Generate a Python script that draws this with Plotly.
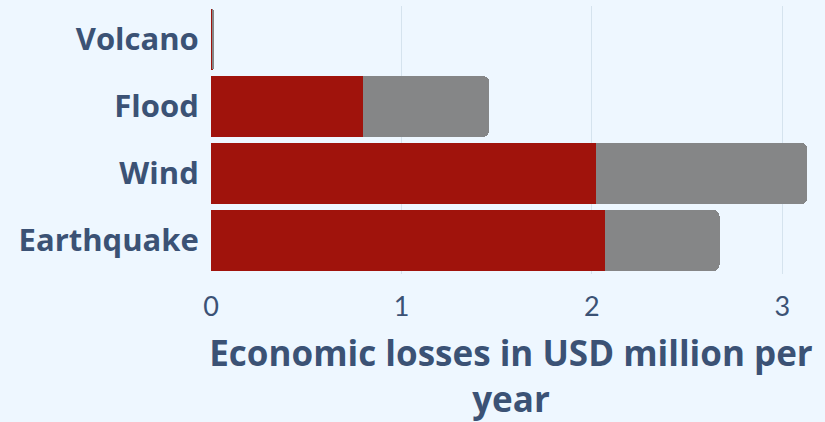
import plotly.graph_objects as go

categories = ["Earthquake", "Wind", "Flood", "Volcano"]
red_values = [2.07, 2.02, 0.80, 0.01]
gray_values = [0.60, 1.11, 0.66, 0.006]
x_ticks = [0, 1, 2, 3]

TEXT = "#3b5275"
BG = "#eef7ff"

fig = go.Figure()
fig.add_trace(go.Bar(y=categories, x=red_values, orientation="h",
                     marker=dict(color="#a0130c", line=dict(width=0)), showlegend=False))
fig.add_trace(go.Bar(y=categories, x=gray_values, orientation="h",
                     marker=dict(color="#858687", line=dict(width=0)), showlegend=False))

fig.update_layout(
    barmode="stack",
    bargap=0.09,
    barcornerradius=6,
    width=825, height=422,
    paper_bgcolor=BG, plot_bgcolor=BG,
    margin=dict(l=211, r=14, t=6, b=148),
    font=dict(family="Open Sans", color=TEXT),
    xaxis=dict(
        range=[0, 3.15], tickvals=x_ticks, ticktext=[str(v) for v in x_ticks],
        showgrid=True, gridcolor="#d5e3ee", gridwidth=1, zeroline=False,
        showline=False, ticks="outside", ticklen=9, tickcolor="rgba(0,0,0,0)",
        tickfont=dict(size=27, color=TEXT, family="Lato"),
        title=dict(text="<b>Economic losses in USD million per<br>year</b>",
                   font=dict(size=35, color=TEXT, family="Open Sans"), standoff=25),
        automargin=False,
    ),
    yaxis=dict(
        showgrid=False, zeroline=False, showline=False,
        ticks="outside", ticklen=5, tickcolor="rgba(0,0,0,0)",
        tickfont=dict(size=31, color=TEXT, family="Open Sans", weight="bold"),
        automargin=False,
    ),
)

fig.write_html("out.html")
